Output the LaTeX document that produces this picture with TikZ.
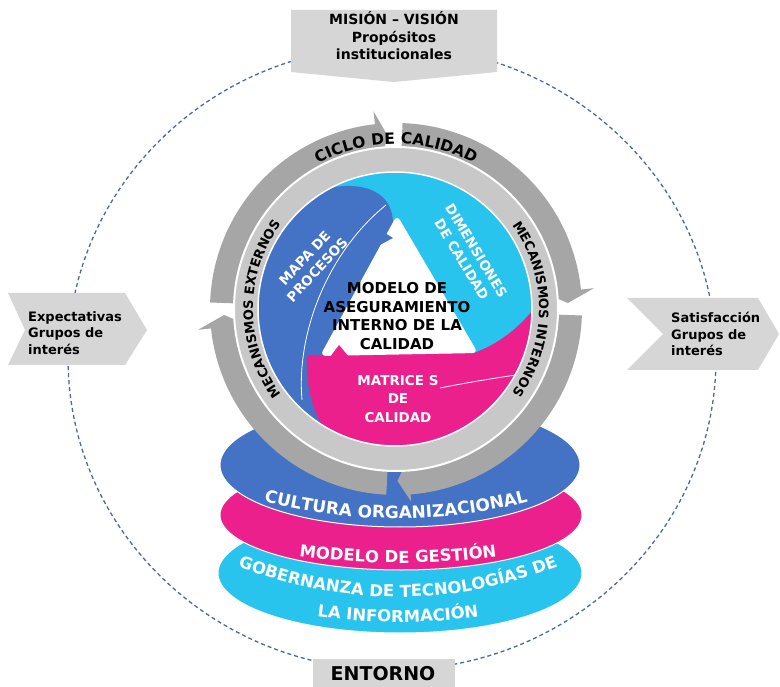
\documentclass[tikz,border=0pt]{standalone}
\usepackage{fontspec}
\setmainfont{DejaVu Sans}
\usetikzlibrary{decorations.text}
\definecolor{qblue}{RGB}{68,114,196}
\definecolor{qpink}{RGB}{236,32,140}
\definecolor{qcyan}{RGB}{40,196,238}
\definecolor{ringdark}{RGB}{166,166,166}
\definecolor{ringlight}{RGB}{200,200,200}
\definecolor{boxgray}{RGB}{214,214,214}
\definecolor{dashblue}{RGB}{80,105,150}
\newcommand{\ringarrow}[4]{\fill[ringdark] (#1:186) arc[start angle=#1, end angle=#2, radius=186] -- (#2:#4) -- (#3:172) -- (#2:150) arc[start angle=#2, end angle=#1, radius=150] -- cycle;}
\newcommand{\ringfontA}{\fontsize{15.5}{15.5}\selectfont\bfseries}
\newcommand{\ringfontB}{\fontsize{13}{13}\selectfont\bfseries}
\newcommand{\ellfontA}{\fontsize{17}{17}\selectfont\bfseries\color{white}}
\newcommand{\ellfontB}{\fontsize{16.5}{16.5}\selectfont\bfseries\color{white}}
\tikzset{
  grayshape/.style={fill=boxgray},
  sidetext/.style={align=left, anchor=west, inner sep=0pt, font=\fontsize{13}{16.5}\selectfont\bfseries},
  disktext/.style={white, align=center, inner sep=0pt, font=\fontsize{13.5}{17}\selectfont\bfseries},
  thinwhite/.style={white, line width=0.8pt},
}
\begin{document}
\begin{tikzpicture}[x=1pt,y=-1pt]
\useasboundingbox (0,0) rectangle (780,687);
\fill[white] (0,0) rectangle (780,687);
% dashed surrounding ellipse
\draw[dashblue, line width=1.3pt, dash pattern=on 4pt off 3pt] (392,358) ellipse [x radius=324, y radius=312];
% top box
\fill[grayshape] (291,10) -- (497,10) -- (497,72) -- (394,82) -- (291,72) -- cycle;
\node[align=center, inner sep=0pt, font=\fontsize{14}{17.5}\selectfont\bfseries] (mision) at (394,36) {MISIÓN – VISIÓN\\Propósitos\\institucionales};
% left arrow
\fill[grayshape] (8,293) -- (125,293) -- (147,330) -- (125,365) -- (8,365) -- (25,330) -- cycle;
\node[sidetext] (expect) at (28,333) {Expectativas\\Grupos de\\interés};
% right arrow
\fill[grayshape] (627,298) -- (758,298) -- (779,334) -- (758,370) -- (627,370) -- (663,334) -- cycle;
\node[sidetext] (satisf) at (671,334) {Satisfacción\\Grupos de\\interés};
% entorno
\fill[grayshape] (313,659) rectangle (455,687);
\node[font=\fontsize{19}{19}\selectfont\bfseries, inner sep=0pt] (entorno) at (383,674) {ENTORNO};
% stacked ellipses
\fill[qcyan, draw=white, line width=1pt] (400,573) ellipse [x radius=182, y radius=60];
\fill[qpink, draw=white, line width=1pt] (401,515) ellipse [x radius=181, y radius=55];
\fill[qblue, draw=white, line width=1pt] (400,465) ellipse [x radius=180, y radius=62];
% ring arrows
\begin{scope}[shift={(396,309)}]
\ringarrow{182}{263.5}{267.5}{199}
\ringarrow{272}{354}{358}{199}
\ringarrow{2}{85.5}{89.5}{193}
\ringarrow{93}{174}{178}{199}
\end{scope}
% light band
\fill[ringlight, draw=white, line width=2pt] (396,309) circle [radius=162];
% inner disk
\begin{scope}
\clip (395,309) circle [radius=137];
\fill[qcyan] (395,309) circle [radius=137];
\fill[qblue] (240,470) -- (370,470) -- (370,300) -- (393,222) .. controls (392,195) and (370,185) .. (345,186) .. controls (310,188) and (280,205) .. (262,235) -- (240,240) -- cycle;
\fill[qpink] (307,355) -- (474,353) .. controls (495,345) and (520,330) .. (540,300) -- (560,320) -- (560,470) -- (340,470) -- (336,446) .. controls (318,425) and (305,395) .. (307,355) -- cycle;
\fill[white, rounded corners=6pt] (397,215) -- (478,353) -- (320,356) -- cycle;
\fill[qblue] (380,230) -- (393,238) -- (378,246) -- cycle;
\fill[qpink] (330,357) -- (339,345) -- (349,357) -- cycle;
\draw[thinwhite] (302,400) .. controls (296,330) and (330,250) .. (386,205);
\draw[thinwhite] (440,388) .. controls (480,380) and (510,376) .. (535,372);
\end{scope}
\draw[white, line width=1.5pt] (395,309) circle [radius=137];
% disk texts
\node[disktext, rotate=47] (mapa) at (311,264) {MAPA DE\\PROCESOS};
\node[disktext, rotate=-59] (dimen) at (469,255) {DIMENSIONES\\DE CALIDAD};
\node[disktext, font=\fontsize{13.5}{18.5}\selectfont\bfseries] (matrices) at (398,399) {MATRICE S\\DE\\CALIDAD};
\node[black, align=center, inner sep=0pt, font=\fontsize{15}{18.5}\selectfont\bfseries] (modelo) at (397,316) {MODELO DE\\ASEGURAMIENTO\\INTERNO DE LA\\CALIDAD};
% ring texts
\begin{scope}[shift={(396,309)}]
\path[decorate, decoration={text along path, text align=center, text={|\ringfontA|CICLO DE CALIDAD}}] (225:165) arc[start angle=225, end angle=315, radius=165];
\path[decorate, decoration={text along path, text align=center, text={|\ringfontB|MECANISMOS EXTERNOS}}] (120:143) arc[start angle=120, end angle=240, radius=143];
\path[decorate, decoration={text along path, text align=center, text={|\ringfontB|MECANISMOS INTERNOS}}] (300:143) arc[start angle=300, end angle=420, radius=143];
\end{scope}
% ellipse texts
\path[decorate, decoration={text along path, text align=center, text={|\ellfontA|CULTURA ORGANIZACIONAL}}] (230,492) .. controls (340.7,527.3) and (451.3,527.3) .. (562,492);
\path[decorate, decoration={text along path, text align=center, text={|\ellfontB|MODELO DE GESTIÓN}}] (250,548) .. controls (348.7,568) and (447.3,568) .. (546,548);
\path[decorate, decoration={text along path, text align=center, text={|\ellfontB|GOBERNANZA DE TECNOLOGÍAS DE}}] (222,560) .. controls (339.3,609.3) and (456.7,609.3) .. (574,560);
\path[decorate, decoration={text along path, text align=center, text={|\ellfontB|LA INFORMACIÓN}}] (270,608) .. controls (355.3,626.7) and (440.7,626.7) .. (526,608);
\end{tikzpicture}
\end{document}
